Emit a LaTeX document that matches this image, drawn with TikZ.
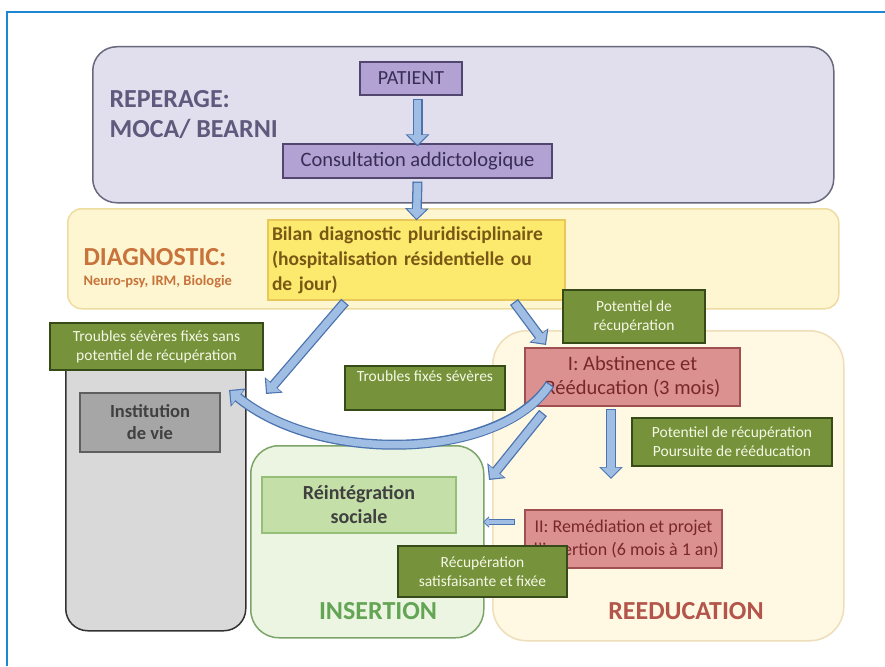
\documentclass[tikz,border=0pt]{standalone}
\usepackage{fontspec}
\setmainfont{Carlito}
\usetikzlibrary{arrows.meta}
\definecolor{framec}{RGB}{30,135,210}
\definecolor{lavfill}{RGB}{225,223,238}
\definecolor{lavdraw}{RGB}{105,105,125}
\definecolor{lavtext}{RGB}{95,90,125}
\definecolor{patfill}{RGB}{178,162,212}
\definecolor{patdraw}{RGB}{80,70,110}
\definecolor{pattext}{RGB}{55,45,85}
\definecolor{diafill}{RGB}{253,246,208}
\definecolor{diadraw}{RGB}{238,220,160}
\definecolor{diatext}{RGB}{200,115,60}
\definecolor{bilfill}{RGB}{252,234,110}
\definecolor{bildraw}{RGB}{232,200,90}
\definecolor{biltext}{RGB}{120,88,20}
\definecolor{gfill}{RGB}{118,146,58}
\definecolor{gdraw}{RGB}{55,75,25}
\definecolor{gtext}{RGB}{245,248,230}
\definecolor{colfill}{RGB}{217,217,217}
\definecolor{coldraw}{RGB}{50,50,50}
\definecolor{instfill}{RGB}{166,166,166}
\definecolor{instdraw}{RGB}{95,95,95}
\definecolor{insfill}{RGB}{236,245,226}
\definecolor{insdraw}{RGB}{125,165,105}
\definecolor{instxt}{RGB}{100,165,85}
\definecolor{reifill}{RGB}{196,224,168}
\definecolor{reidraw}{RGB}{150,190,120}
\definecolor{reefill}{RGB}{255,248,226}
\definecolor{reedraw}{RGB}{238,222,185}
\definecolor{reetxt}{RGB}{180,85,75}
\definecolor{pinkfill}{RGB}{220,145,145}
\definecolor{pinkdraw}{RGB}{160,80,80}
\definecolor{pinktxt}{RGB}{120,40,40}
\definecolor{afill}{RGB}{160,190,228}
\definecolor{abord}{RGB}{75,115,175}
\tikzset{
  region/.style={anchor=north west, inner sep=0pt, line width=1.5pt},
  box/.style={draw, line width=1.2pt, align=center, inner sep=2pt},
  glabel/.style={box, fill=gfill, draw=gdraw, line width=1.5pt, text=gtext, font=\fontsize{15.5}{19}\selectfont},
  pinkbox/.style={box, fill=pinkfill, draw=pinkdraw, text=pinktxt},
  bigtitle/.style={font=\fontsize{26}{30}\selectfont\bfseries},
  abo/.style={line width=10pt, draw=abord, -{Triangle[length=12pt, width=23pt]}},
  afi/.style={line width=7.4pt, draw=afill, shorten >=1.7pt, shorten <=1.3pt, -{Triangle[length=9.6pt, width=18.6pt]}},
  sabo/.style={line width=6pt, draw=abord, -{Triangle[length=6pt, width=11pt]}},
  safi/.style={line width=4pt, draw=afill, shorten >=1.2pt, shorten <=1pt, -{Triangle[length=4.6pt, width=8pt]}}
}
\begin{document}
\begin{tikzpicture}[x=1pt,y=-1pt]
\useasboundingbox (0,0) rectangle (885,666);
\fill[white] (0,0) rectangle (885,666);
\draw[framec, line width=2.5pt] (7,666) -- (7,12) -- (885,12);

% regions
\node[region, draw=lavdraw, fill=lavfill, rounded corners=24pt, minimum width=741pt, minimum height=156pt] (rep) at (92,46) {};
\node[region, draw=diadraw, fill=diafill, rounded corners=14pt, minimum width=771pt, minimum height=100pt] (dia) at (67,208) {};
\node[region, draw=reedraw, fill=reefill, rounded corners=34pt, minimum width=351pt, minimum height=310pt] (ree) at (492,330) {};
\node[region, draw=insdraw, fill=insfill, rounded corners=28pt, minimum width=233pt, minimum height=192pt] (ins) at (250,445) {};
\node[region, draw=coldraw, fill=colfill, rounded corners=22pt, minimum width=180pt, minimum height=290pt] (col) at (65,340) {};

% region titles
\node[bigtitle, text=lavtext, anchor=west, align=left] (reptxt) at (106,115) {REPERAGE:\\MOCA/ BEARNI};
\node[bigtitle, text=diatext, anchor=west] (diatxt) at (80,257) {DIAGNOSTIC:};
\node[text=diatext, anchor=west, font=\fontsize{14.5}{16}\selectfont\bfseries] (diasub) at (80,282) {Neuro-psy, IRM, Biologie};
\node[bigtitle, text=instxt] (institle) at (378,611) {INSERTION};
\node[bigtitle, text=reetxt] (reetitle) at (686,611) {REEDUCATION};

% boxes
\node[box, fill=patfill, draw=patdraw, text=pattext, minimum width=102pt, minimum height=33pt, font=\fontsize{20}{22}\selectfont] (patient) at (411,78.5) {PATIENT};
\node[box, fill=patfill, draw=patdraw, text=pattext, minimum width=269pt, minimum height=34pt, font=\fontsize{20.5}{22}\selectfont] (consult) at (417.5,161) {Consultation addictologique};
\node[box, fill=bilfill, draw=bildraw, text=biltext, minimum width=297pt, minimum height=80pt, text width=289pt, align=left, font=\fontsize{19.5}{25}\selectfont\bfseries] (bilan) at (416.5,260) {Bilan diagnostic pluridisciplinaire\\(hospitalisation résidentielle ou\\de jour)};
\node[glabel, minimum width=213pt, minimum height=47pt] (lab1) at (156.5,346.5) {Troubles sévères fixés sans\\potentiel de récupération};
\node[box, fill=instfill, draw=instdraw, text=black!75, minimum width=140pt, minimum height=59pt, font=\fontsize{18.5}{22}\selectfont\bfseries] (inst) at (150,422.5) {Institution\\de vie};
\node[glabel, minimum width=142pt, minimum height=53pt] (lab2) at (634,316.5) {Potentiel de\\récupération};
\node[pinkbox, minimum width=215pt, minimum height=58pt, font=\fontsize{20.5}{24}\selectfont] (abst) at (632.5,377) {I: Abstinence et\\Rééducation (3 mois)};
\node[glabel, minimum width=160pt, minimum height=44pt] (lab3) at (425,388) {Troubles fixés sévères\\\strut};
\node[glabel, minimum width=200pt, minimum height=48pt] (lab4) at (732,442) {Potentiel de récupération\\Poursuite de rééducation};
\node[pinkbox, minimum width=197pt, minimum height=58pt, font=\fontsize{18}{23}\selectfont] (remed) at (623.5,539) {II: Remédiation et projet\\d'insertion (6 mois à 1 an)};
\node[box, fill=reifill, draw=reidraw, text=black!75, minimum width=194pt, minimum height=56pt, font=\fontsize{20}{24}\selectfont\bfseries] (reint) at (359,505) {Réintégration\\sociale};
\node[glabel, minimum width=169pt, minimum height=51pt] (lab5) at (482.5,571.5) {Récupération\\satisfaisante et fixée};

% arrow end points
\coordinate (p1) at (consult.north |- patient.south);
\coordinate (b1) at (345,302);
\coordinate (b1e) at (266,394);
\coordinate (b2) at (514,302);
\coordinate (b2e) at (546,345);
\coordinate (a1) at (550,384);
\coordinate (a1e) at (229,390);
\coordinate (a2) at (543,413);
\coordinate (a2e) at (489,480);
\coordinate (a3) at (611,409);
\coordinate (a3e) at (611,479);
\coordinate (r1) at (515,522);
\coordinate (r1e) at (483,522);

% arrows
\draw[abo] (p1) ++(0,3) -- ([yshift=-3pt]consult.north);
\draw[afi] (p1) ++(0,3) -- ([yshift=-3pt]consult.north);
\draw[abo] (consult.south) ++(0,3) -- ([yshift=-1pt]bilan.north);
\draw[afi] (consult.south) ++(0,3) -- ([yshift=-1pt]bilan.north);
\draw[abo] (b1) -- (b1e);
\draw[afi] (b1) -- (b1e);
\draw[abo] (b2) -- (b2e);
\draw[afi] (b2) -- (b2e);
\draw[abo] (a1) .. controls (500,460) and (320,465) .. (a1e);
\draw[afi] (a1) .. controls (500,460) and (320,465) .. (a1e);
\draw[abo] (a2) -- (a2e);
\draw[afi] (a2) -- (a2e);
\draw[abo] (a3) -- (a3e);
\draw[afi] (a3) -- (a3e);
\draw[sabo] (r1) -- (r1e);
\draw[safi] (r1) -- (r1e);
\end{tikzpicture}
\end{document}
